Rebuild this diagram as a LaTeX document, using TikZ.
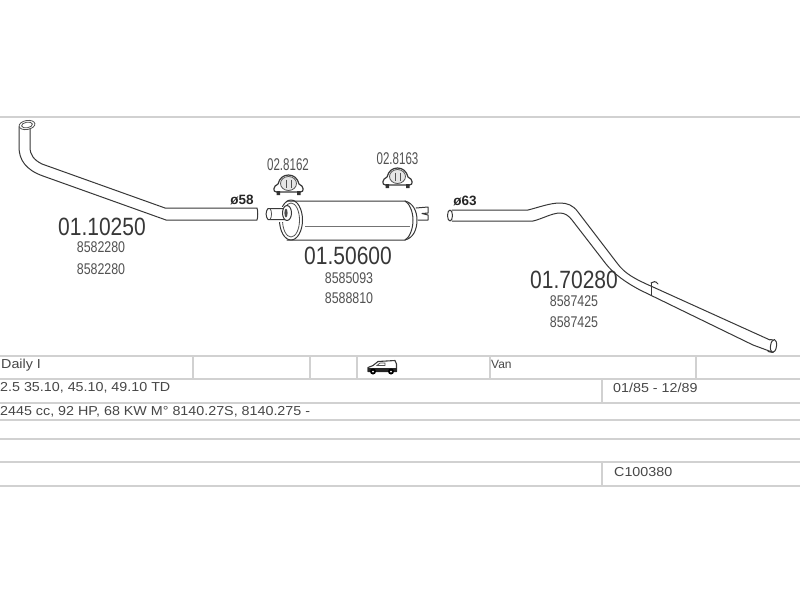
\documentclass[tikz,border=0pt]{standalone}
\usepackage{fontspec}
\setmainfont{Liberation Sans}
\newfontfamily\narfont[FakeStretch=0.84]{Liberation Sans}
\newfontfamily\smallfont[FakeStretch=0.8]{Liberation Sans}
\newfontfamily\clampfont[FakeStretch=0.68]{Liberation Sans}
\newfontfamily\widefont[FakeStretch=1.1]{Liberation Sans}
\tikzset{
  partno/.style={inner sep=0pt,text=black!78,font=\narfont\fontsize{25}{25}\selectfont},
  refno/.style={inner sep=0pt,text=black!68,font=\smallfont\fontsize{15.5}{16}\selectfont},
  clampno/.style={inner sep=0pt,text=black!68,font=\clampfont\fontsize{17}{17}\selectfont},
  dia/.style={inner sep=0pt,text=black!85,font=\bfseries\fontsize{13.5}{13.5}\selectfont},
  cell/.style={inner sep=0pt,anchor=west,text=black!72,font=\widefont\fontsize{13}{13}\selectfont},
  vancell/.style={inner sep=0pt,anchor=west,text=black!72,font=\fontsize{12}{12}\selectfont},
  rule/.style={draw=black!18,line width=1.5pt},
  pipe/.style={draw=black!78,line width=1pt,line join=round,line cap=round},
  thin pipe/.style={draw=black!68,line width=.8pt},
}
\begin{document}
\begin{tikzpicture}[x=1pt,y=-1pt]
\useasboundingbox (0,0) rectangle (800,600);
\fill[white] (0,0) rectangle (800,600);
% rules
\draw[rule] (0,117) -- (800,117);
\foreach \y in {356,379,403,420,439,462,486} \draw[rule] (0,\y) -- (800,\y);
\foreach \x in {193,310,357,490,696} \draw[rule] (\x,356) -- (\x,379);
\draw[rule] (602,379) -- (602,403);
\draw[rule] (602,462) -- (602,486);
% front pipe
\draw[pipe] (30,128) -- (30,147) .. controls (30,155) and (34,160) .. (42,164) -- (165,208) -- (257,208)
  .. controls (258,211) and (258,217) .. (257,220) -- (166,220) -- (43,176)
  .. controls (26,170) and (19,160) .. (19,147) -- (19,127);
\draw[thin pipe,rotate around={10:(27,125)}] (27,125) ellipse (8 and 4.5);
\draw[thin pipe,rotate around={10:(27,125)}] (27,125) ellipse (5.5 and 2.8);
% muffler
\draw[pipe] (287,201) -- (405,201) .. controls (413,203) and (417,211) .. (417,220)
  .. controls (417,230) and (413,238) .. (405,240) -- (287,240);
\draw[pipe] (405,201) .. controls (409,203) and (413,211) .. (413,220) .. controls (413,230) and (409,238) .. (405,240);
\draw[pipe] (291,220) ellipse (11.5 and 20);
\draw[thin pipe] (291,220) ellipse (8.5 and 17);
\draw[draw=black!55,line width=.9pt] (305,226) -- (410,226);
% inlet stub
\fill[white] (279,207) rectangle (286,222);
\draw[pipe] (285,208.5) -- (268,208.5) .. controls (265.5,211) and (265.5,217) .. (268,219.5) -- (285,219.5);
\draw[thin pipe] (270,208.5) .. controls (272,211) and (272,217) .. (270,219.5);
\draw[pipe,fill=white] (287,213) ellipse (4.5 and 7.5);
\fill[black!70] (286,213) ellipse (1.6 and 4.5);
% outlet stub
\draw[pipe] (416,208) -- (428,207) -- (428,213) -- (422,213.5) -- (428,215) -- (428,220) -- (418,220);
% rear pipe
\draw[pipe] (452,210) -- (528,210) .. controls (540,207) and (550,203) .. (560,203)
  .. controls (567,203) and (573,205) .. (578,212) -- (617,263)
  .. controls (625,274) and (635,279) .. (653,287) -- (770,340);
\draw[pipe] (452,221) -- (533,221) .. controls (542,219) and (552,213) .. (560,213)
  .. controls (565,213) and (569,216) .. (572,220) -- (606,264)
  .. controls (614,274) and (625,282) .. (640,290) -- (753,345) -- (772,352);
\draw[pipe] (450,215.5) ellipse (2.5 and 5.5);
\draw[pipe,rotate around={-8:(773.5,346)}] (773.5,346) ellipse (3 and 6.5);
\draw[pipe] (770,339.5) -- (773,340) (768,351.5) -- (773,352.5);
% pipe clamp
\draw[pipe] (651,283) -- (651,295);
\draw[pipe] (651,283) .. controls (653,281) and (656,281) .. (658,284);
% exhaust clamps
\foreach \cx/\cy/\nm in {288.5/185/a,397.5/178/b}{
  \begin{scope}[shift={(\cx,\cy)}]
    \draw[pipe,line width=1.2pt,fill=white] (-12,7) .. controls (-16,7) and (-15.5,1) .. (-10.5,-1)
      .. controls (-9,-7) and (-5,-10) .. (0,-10) .. controls (5,-10) and (9,-7) .. (10.5,-1)
      .. controls (15.5,1) and (16,7) .. (12,7) -- (-12,7) -- cycle;
    \fill[black!80] (-12,6) rectangle (-8.5,10) (8.5,6) rectangle (12,10);
    \draw[thin pipe,fill=black!10] (0,-1.5) ellipse (8 and 7);
    \draw[thin pipe,line width=1pt] (-2.5,-5.5) -- (-2.5,2.5) (2.5,-5.5) -- (2.5,2.5);
  \end{scope}
}
% text
\node[partno] (p1) at (102,227) {01.10250};
\node[refno] (r1a) at (101,247) {8582280};
\node[refno] (r1b) at (101,269) {8582280};
\node[dia] (d1) at (242,199.5) {ø58};
\node[clampno] (c1) at (288,165) {02.8162};
\node[clampno] (c2) at (397.5,159) {02.8163};
\node[partno] (p2) at (348,256) {01.50600};
\node[refno] (r2a) at (349,278) {8585093};
\node[refno] (r2b) at (349,298) {8588810};
\node[dia] (d2) at (465,201) {ø63};
\node[partno] (p3) at (574,280) {01.70280};
\node[refno] (r3a) at (574,301) {8587425};
\node[refno] (r3b) at (574,322) {8587425};
\node[cell] (t1) at (1,365) {Daily I};
\node[vancell] (t2) at (491,364) {Van};
\node[cell] (t3) at (0,388) {2.5 35.10, 45.10, 49.10 TD};
\node[cell] (t4) at (613,388) {01/85 - 12/89};
\node[cell] (t5) at (0,412) {2445 cc, 92 HP, 68 KW M° 8140.27S, 8140.275 -};
\node[cell] (t6) at (614,472) {C100380};
% van
\begin{scope}[shift={(367,360)}]
  \draw[pipe,line width=1.1pt] (1,11.5) -- (1,7.5) -- (6,5.5) -- (11,1.5) -- (28,.5) -- (29.5,4) -- (29.5,11.5) -- cycle;
  \fill[black!85] (1,8) rectangle (29.5,11.5);
  \draw[thin pipe] (10,5.5) -- (13,3) -- (18,3) -- (18,5.5) -- cycle;
  \fill[black] (6,11.5) circle (3) (24,11.5) circle (3);
  \fill[white] (6,11.5) circle (1) (24,11.5) circle (1);
\end{scope}
\end{tikzpicture}
\end{document}
